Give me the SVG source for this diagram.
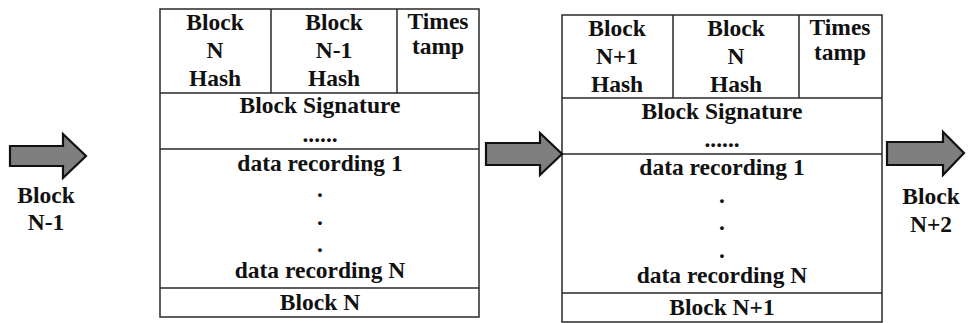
<svg xmlns="http://www.w3.org/2000/svg" width="969" height="323" viewBox="0 0 969 323">
  <style>
    .box { fill: #fff; stroke: #2a2a2a; stroke-width: 1.5; }
    .div { stroke: #2a2a2a; stroke-width: 1.5; fill: none; }
    .arrow { fill: #7f7f7f; stroke: #111; stroke-width: 2.2; stroke-linejoin: miter; }
  </style>
  <rect width="969" height="323" fill="#fff"/>

  <g font-size="23.5" font-weight="bold" fill="#111" text-anchor="middle">
    <!-- block N -->
    <g id="block-n">
      <rect class="box" x="160" y="9" width="319" height="308"/>
      <path class="div" d="M160 93H479M160 149H479M160 288H479M271 9V93M397 9V93"/>
      <text font-family="Liberation Serif" x="215" y="30">Block</text>
      <text font-family="Liberation Serif" x="215" y="58">N</text>
      <text font-family="Liberation Serif" x="215" y="86">Hash</text>
      <text font-family="Liberation Serif" x="334" y="30">Block</text>
      <text font-family="Liberation Serif" x="334" y="58">N-1</text>
      <text font-family="Liberation Serif" x="334" y="86">Hash</text>
      <text font-family="Liberation Serif" x="438" y="29">Times</text>
      <text font-family="Liberation Serif" x="438" y="54">tamp</text>
      <text font-family="Liberation Serif" x="320" y="113">Block Signature</text>
      <text font-family="Liberation Serif" x="320" y="142">......</text>
      <text font-family="Liberation Serif" x="320" y="171">data recording 1</text>
      <text font-family="Liberation Serif" x="320" y="197">.</text>
      <text font-family="Liberation Serif" x="320" y="225">.</text>
      <text font-family="Liberation Serif" x="320" y="252">.</text>
      <text font-family="Liberation Serif" x="320" y="278">data recording N</text>
      <text font-family="Liberation Serif" x="320" y="310">Block N</text>
    </g>

    <!-- block N+1 -->
    <g id="block-n1">
      <rect class="box" x="562" y="15" width="320" height="307"/>
      <path class="div" d="M562 98H882M562 154H882M562 293H882M673 15V98M799 15V98"/>
      <text font-family="Liberation Serif" x="617" y="36">Block</text>
      <text font-family="Liberation Serif" x="617" y="64">N+1</text>
      <text font-family="Liberation Serif" x="617" y="92">Hash</text>
      <text font-family="Liberation Serif" x="736" y="36">Block</text>
      <text font-family="Liberation Serif" x="736" y="64">N</text>
      <text font-family="Liberation Serif" x="736" y="92">Hash</text>
      <text font-family="Liberation Serif" x="840" y="35">Times</text>
      <text font-family="Liberation Serif" x="840" y="60">tamp</text>
      <text font-family="Liberation Serif" x="722" y="119">Block Signature</text>
      <text font-family="Liberation Serif" x="722" y="147">......</text>
      <text font-family="Liberation Serif" x="722" y="175">data recording 1</text>
      <text font-family="Liberation Serif" x="722" y="203">.</text>
      <text font-family="Liberation Serif" x="722" y="230">.</text>
      <text font-family="Liberation Serif" x="722" y="258">.</text>
      <text font-family="Liberation Serif" x="722" y="283">data recording N</text>
      <text font-family="Liberation Serif" x="722" y="315">Block N+1</text>
    </g>

    <!-- neighbouring block labels -->
    <g id="prev-block">
      <text font-family="Liberation Serif" x="46" y="203">Block</text>
      <text font-family="Liberation Serif" x="46" y="230">N-1</text>
    </g>
    <g id="next-block">
      <text font-family="Liberation Serif" x="931" y="204">Block</text>
      <text font-family="Liberation Serif" x="931" y="232">N+2</text>
    </g>
  </g>

  <!-- chain arrows -->
  <g id="connectors">
    <polygon class="arrow" points="10,146 63,146 63,134 86,156 63,178 63,166 10,166"/>
    <polygon class="arrow" points="486,143 540,143 540,133 562,154 540,175 540,165 486,165"/>
    <polygon class="arrow" points="887,142 943,142 943,132 964,153 943,175 943,165 887,165"/>
  </g>
</svg>
